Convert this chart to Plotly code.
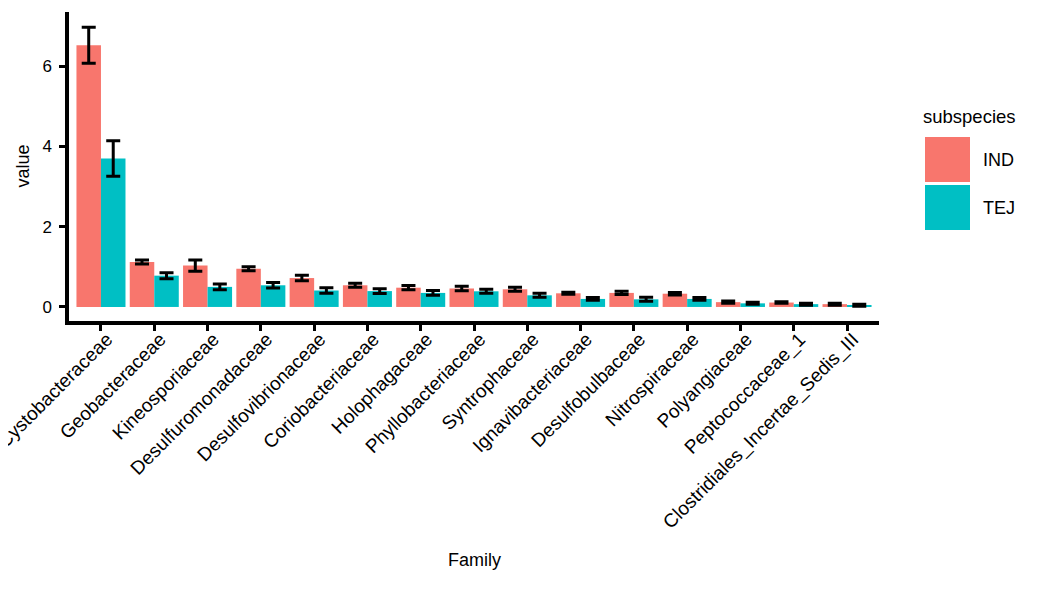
import plotly.graph_objects as go

families = ["Cystobacteraceae", "Geobacteraceae", "Kineosporiaceae", "Desulfuromonadaceae",
            "Desulfovibrionaceae", "Coriobacteriaceae", "Holophagaceae", "Phyllobacteriaceae",
            "Syntrophaceae", "Ignavibacteriaceae", "Desulfobulbaceae", "Nitrospiraceae",
            "Polyangiaceae", "Peptococcaceae_1", "Clostridiales_Incertae_Sedis_III"]
ind_values = [6.52, 1.12, 1.03, 0.95, 0.72, 0.54, 0.48, 0.46, 0.44, 0.34, 0.35, 0.33, 0.12, 0.11, 0.07]
ind_err = [0.45, 0.05, 0.14, 0.05, 0.07, 0.05, 0.054, 0.054, 0.05, 0.025, 0.04, 0.033, 0.03, 0.02, 0.025]
tej_values = [3.70, 0.78, 0.50, 0.54, 0.41, 0.395, 0.35, 0.39, 0.29, 0.20, 0.19, 0.20, 0.09, 0.07, 0.04]
tej_err = [0.44, 0.075, 0.07, 0.067, 0.067, 0.058, 0.058, 0.05, 0.05, 0.033, 0.05, 0.033, 0.025, 0.025, 0.025]
y_ticks = [0, 2, 4, 6]

IND_COLOR = "#F8766D"
TEJ_COLOR = "#00BFC4"
FONT = "Liberation Sans, Arial, sans-serif"

fig = go.Figure()
fig.add_trace(go.Bar(x=families, y=ind_values, name="IND", marker_color=IND_COLOR,
                     marker_line_width=0,
                     error_y=dict(type="data", array=ind_err, color="black", thickness=3, width=7)))
fig.add_trace(go.Bar(x=families, y=tej_values, name="TEJ", marker_color=TEJ_COLOR,
                     marker_line_width=0,
                     error_y=dict(type="data", array=tej_err, color="black", thickness=3, width=7)))

# page body has an 8px default margin; work in screen pixels and convert
OFF = 8
FIG_W, FIG_H = 1050 - OFF, 589 - OFF
# plot area in screen pixels
L, R, T, B = 69, 879, 12, 321
W, H = R - L, B - T


def px(xp):
    return (xp - L) / W


def py(yp):
    return (B - yp) / H


fig.update_layout(
    width=FIG_W, height=FIG_H,
    margin=dict(l=L - OFF, r=FIG_W - (R - OFF), t=T - OFF, b=FIG_H - (B - OFF), autoexpand=False),
    paper_bgcolor="white", plot_bgcolor="white",
    barmode="group", bargap=0.08, bargroupgap=0,
    showlegend=False,
    font=dict(family=FONT, color="black"),
)
fig.update_xaxes(
    type="category", range=[-0.6, len(families) - 0.4],
    showline=True, linecolor="black", linewidth=3.5,
    ticks="outside", ticklen=6, tickwidth=3, tickcolor="black",
    ticklabelstandoff=-10, ticklabelshift=6,
    tickangle=-45, tickfont=dict(size=19, color="black", family=FONT),
    showgrid=False, zeroline=False, automargin=False,
)
fig.update_yaxes(
    range=[-0.35, 7.35], tickvals=y_ticks, ticktext=[str(v) for v in y_ticks],
    showline=True, linecolor="black", linewidth=3.5,
    ticks="outside", ticklen=6, tickwidth=3, tickcolor="black", ticklabelstandoff=4,
    tickfont=dict(size=17, color="black", family=FONT),
    showgrid=False, zeroline=False, automargin=False,
)

annotations = [
    dict(text="value", x=px(22), y=0.5, xref="paper", yref="paper", textangle=-90,
         showarrow=False, font=dict(size=18, family=FONT), xanchor="center", yanchor="middle"),
    dict(text="Family", x=px(474), y=py(560), xref="paper", yref="paper",
         showarrow=False, font=dict(size=18, family=FONT), xanchor="center", yanchor="middle"),
    dict(text="subspecies", x=px(921), y=py(117), xref="paper", yref="paper",
         showarrow=False, font=dict(size=18.5, family=FONT), xanchor="left", yanchor="middle"),
    dict(text="IND", x=px(981), y=py(160), xref="paper", yref="paper",
         showarrow=False, font=dict(size=18, family=FONT), xanchor="left", yanchor="middle"),
    dict(text="TEJ", x=px(981), y=py(208), xref="paper", yref="paper",
         showarrow=False, font=dict(size=18, family=FONT), xanchor="left", yanchor="middle"),
]
shapes = [
    dict(type="rect", xref="paper", yref="paper", x0=px(925), x1=px(970), y0=py(182), y1=py(137),
         fillcolor=IND_COLOR, line=dict(width=0)),
    dict(type="rect", xref="paper", yref="paper", x0=px(925), x1=px(970), y0=py(230), y1=py(185),
         fillcolor=TEJ_COLOR, line=dict(width=0)),
]
fig.update_layout(annotations=annotations, shapes=shapes)

fig.write_html("out.html")
